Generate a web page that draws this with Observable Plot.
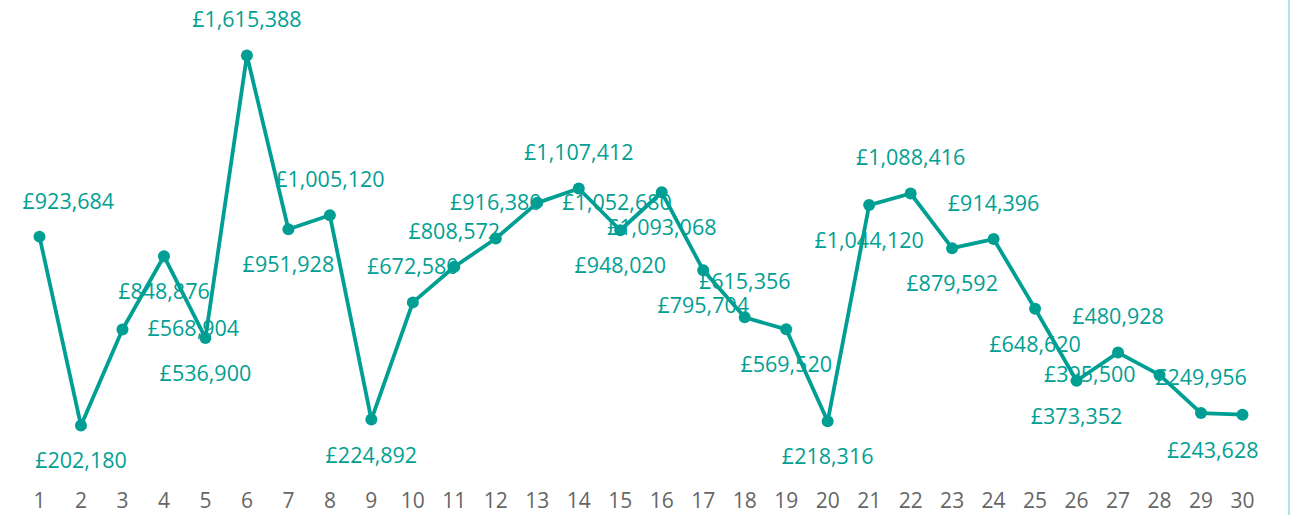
<!DOCTYPE html>
<html>
<head>
<meta charset="utf-8">
<script src="https://cdn.jsdelivr.net/npm/d3@7"></script>
<script src="https://cdn.jsdelivr.net/npm/@observablehq/plot@0.6"></script>
<style>
  html, body { margin: 0; padding: 0; background: #fff; }
  #wrap { position: relative; width: 1291px; height: 517px; overflow: hidden; }
  #edge { position: absolute; left: 1288px; top: 0; width: 2px; height: 515px; background: #b2e1e8; }
</style>
</head>
<body>
<div id="wrap"><div id="edge"></div></div>
<script>
const days = d3.range(1, 31);
const values = [923684, 202180, 568904, 848876, 536900, 1615388, 951928, 1005120, 224892, 672580,
  808572, 916380, 1052680, 1107412, 948020, 1093068, 795704, 615356, 569520, 218316,
  1044120, 1088416, 879592, 914396, 648620, 373352, 480928, 395500, 249956, 243628];
// where each data label sits relative to its point
const placement = ["top-start", "bottom", "right", "bottom", "bottom", "top", "bottom", "top", "bottom", "top",
  "top", "top", "right", "top", "bottom", "bottom", "bottom", "top", "bottom", "bottom",
  "bottom", "top", "bottom", "top", "bottom", "bottom", "top", "left", "top", "bottom-end"];

const data = days.map((d, i) => ({day: d, value: values[i], pos: placement[i]}));
const color = "#019f93";
const fmt = v => "£" + d3.format(",")(v);
const font = "'Open Sans', 'Noto Sans', sans-serif";

const labelStyles = {
  "top":        {dy: -35, textAnchor: "middle", dx: 0},
  "bottom":     {dy: 36, textAnchor: "middle", dx: 0},
  "right":      {dy: 0, textAnchor: "start", dx: 25},
  "left":       {dy: 0, textAnchor: "end", dx: -24},
  "top-start":  {dy: -35, textAnchor: "start", dx: -17},
  "bottom-end": {dy: 36, textAnchor: "end", dx: 16}
};

const labelMarks = Object.entries(labelStyles).map(([k, s]) =>
  Plot.text(data.filter(d => d.pos === k), {
    x: "day", y: "value", text: d => fmt(d.value),
    fill: color, fontSize: 21.5, dx: s.dx, dy: s.dy, textAnchor: s.textAnchor
  })
);

const chart = Plot.plot({
  width: 1291,
  height: 517,
  marginLeft: 39,
  marginRight: 49,
  marginTop: 55,
  marginBottom: 39,
  style: {fontFamily: font, background: "transparent", overflow: "visible"},
  x: {type: "linear", domain: [1, 30], ticks: days, tickFormat: d => String(d), label: null},
  y: {domain: [0, 1615388], axis: null},
  marks: [
    Plot.axisX({ticks: days, tickFormat: d => String(d), tickSize: 0, tickPadding: 15,
      fontSize: 21, fill: "#666", label: null}),
    Plot.line(data, {x: "day", y: "value", stroke: color, strokeWidth: 3.8, strokeLinejoin: "round"}),
    Plot.dot(data, {x: "day", y: "value", r: 6, fill: color}),
    ...labelMarks
  ]
});
document.getElementById("wrap").prepend(chart);
</script>
</body>
</html>
